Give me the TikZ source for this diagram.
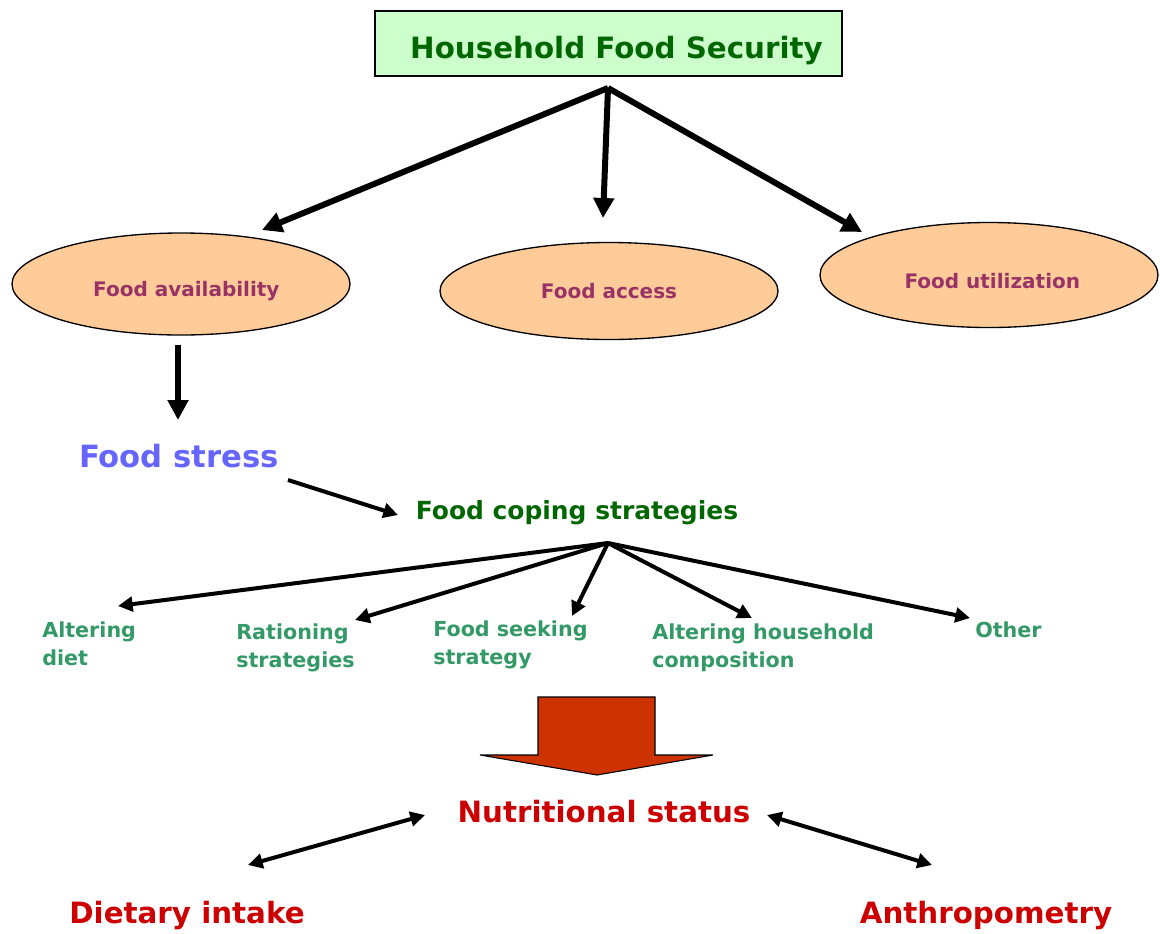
\documentclass[tikz,border=0pt]{standalone}
\usepackage{fontspec}
\setmainfont{DejaVu Sans}
\usetikzlibrary{arrows.meta,shapes.geometric}
\definecolor{titlefill}{HTML}{CCFFCC}
\definecolor{darkgreen}{HTML}{006600}
\definecolor{ellfill}{HTML}{FFCC99}
\definecolor{plum}{HTML}{993366}
\definecolor{stressblue}{HTML}{6666FF}
\definecolor{leafgreen}{HTML}{339966}
\definecolor{blockred}{HTML}{CC3300}
\definecolor{textred}{HTML}{CC0000}
\begin{document}
\begin{tikzpicture}[x=0.75pt,y=-0.75pt,
  titlebox/.style={draw=black,line width=1pt,fill=titlefill,inner sep=0pt,
    minimum width=350.25pt,minimum height=48.75pt,text=darkgreen,
    font=\fontsize{22}{26}\selectfont\bfseries},
  pillar/.style={ellipse,draw=black,line width=1pt,fill=ellfill,inner sep=0pt,
    minimum width=253.5pt,text=plum,font=\fontsize{15}{18}\selectfont\bfseries},
  leaf/.style={anchor=north west,inner sep=0pt,align=left,text=leafgreen,
    font=\fontsize{15.5}{21}\selectfont\bfseries},
  bigred/.style={inner sep=0pt,text=textred,font=\fontsize{22}{26}\selectfont\bfseries},
  heavy/.style={line width=4.5pt,-{Triangle[length=15pt,width=15pt]}},
  medium/.style={line width=3pt,-{Triangle[length=11pt,width=11pt]}},
  twoway/.style={line width=3pt,{Triangle[length=11pt,width=11pt]}-{Triangle[length=11pt,width=11pt]}},
  blockarrow/.style={draw=black,line width=0.8pt,fill=blockred}]
\useasboundingbox (0,0) rectangle (1160,933);

% title
\node[titlebox] (hfs) at (608.5,43.5) {\raisebox{-11pt}[0pt][0pt]{\hspace*{12pt}Household Food Security}};

% pillars
\node[pillar,minimum height=76.5pt] (avail) at (181,284) {\raisebox{-9.25pt}[0pt][0pt]{\hspace*{8pt}Food availability}};
\node[pillar,minimum height=72.75pt] (access) at (609,291) {Food access};
\node[pillar,minimum height=78.75pt] (util) at (989,275) {\raisebox{-10pt}[0pt][0pt]{\hspace*{5pt}Food utilization}};

\coordinate (hub1) at (608,88);
\coordinate (tipAvail) at (262,230);
\coordinate (tipAccess) at (603,218);
\coordinate (tipUtil) at (862,232);
\draw[heavy] (hub1) -- (tipAvail);
\draw[heavy] (hub1) -- (tipAccess);
\draw[heavy] (hub1) -- (tipUtil);

% food stress
\node[inner sep=0pt,text=stressblue,font=\fontsize{23}{27}\selectfont\bfseries] (stress) at (179,456) {Food stress};
\coordinate (downStart) at (178,345);
\coordinate (downTip) at (178,420);
\draw[heavy] (downStart) -- (downTip);

% coping
\node[inner sep=0pt,text=darkgreen,font=\fontsize{18.7}{23}\selectfont\bfseries] (coping) at (577,513) {Food coping strategies};
\coordinate (stressOut) at (288,480);
\coordinate (copingIn) at (398,515);
\draw[line width=3pt,-{Triangle[length=11pt,width=11pt]}] (stressOut) -- (copingIn);

% strategies
\node[leaf] (diet) at (42,622) {Altering\\diet};
\node[leaf] (ration) at (236,624) {Rationing\\strategies};
\node[leaf] (seek) at (433,621) {Food seeking\\strategy};
\node[leaf] (house) at (652,624) {Altering household\\composition};
\node[leaf] (other) at (975,622) {Other};

\coordinate (hub2) at (608,543);
\coordinate (tipDiet) at (118,606);
\coordinate (tipRation) at (355,620);
\coordinate (tipSeek) at (572,616);
\coordinate (tipHouse) at (752,618);
\coordinate (tipOther) at (970,618);
\foreach \t in {tipDiet,tipRation,tipSeek,tipHouse,tipOther}
  \draw[medium] (hub2) -- (\t);

% block arrow
\draw[blockarrow] (538,697) -- (655,697) -- (655,755) -- (713,755) -- (597,775)
  -- (480,755) -- (538,755) -- cycle;

% nutritional status
\node[bigred] (nutri) at (604,812) {Nutritional status};
\node[bigred] (diet2) at (187,916) {Dietary intake};
\node[bigred] (anthro) at (986,916) {Anthropometry};

\coordinate (dA) at (248,865);
\coordinate (dB) at (425,815);
\coordinate (aA) at (767,815);
\coordinate (aB) at (932,865);
\draw[twoway] (dA) -- (dB);
\draw[twoway] (aA) -- (aB);
\end{tikzpicture}
\end{document}
